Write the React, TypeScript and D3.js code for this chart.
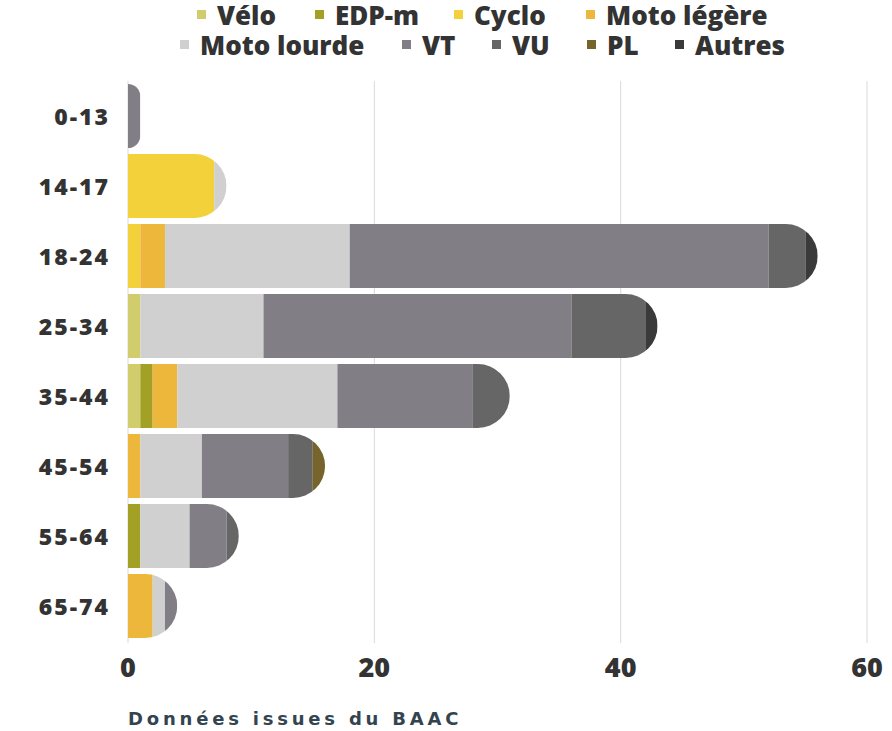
import * as d3 from "d3";

// tranches d'âge et catégories de véhicule
const ages = ["0-13", "14-17", "18-24", "25-34", "35-44", "45-54", "55-64", "65-74"];
const vehicules = ["Vélo", "EDP-m", "Cyclo", "Moto légère", "Moto lourde", "VT", "VU", "PL", "Autres"];
const couleurs = ["#d1cd6c", "#a3a026", "#f2d13a", "#ecb73a", "#d0d0d0", "#817e85", "#666666", "#76642c", "#3a3a3a"];

// valeurs par catégorie (ordre des tranches d'âge)
const velo = [0, 0, 0, 1, 1, 0, 0, 0];
const edpm = [0, 0, 0, 0, 1, 0, 1, 0];
const cyclo = [0, 7, 1, 0, 0, 0, 0, 0];
const motoLegere = [0, 0, 2, 0, 2, 1, 0, 2];
const motoLourde = [0, 1, 15, 10, 13, 5, 4, 1];
const vt = [1, 0, 34, 25, 11, 7, 3, 1];
const vu = [0, 0, 3, 6, 3, 2, 1, 0];
const pl = [0, 0, 0, 0, 0, 1, 0, 0];
const autres = [0, 0, 1, 1, 0, 0, 0, 0];

const xTicks = [0, 20, 40, 60];

const series = [velo, edpm, cyclo, motoLegere, motoLourde, vt, vu, pl, autres];

const rows = ages.map((age, i) => {
  const r: any = { age };
  vehicules.forEach((v, j) => (r[v] = series[j][i]));
  return r;
});

export default function App() {
  const W = 892, H = 731;
  const x = d3.scaleLinear().domain([0, 60]).range([128, 867]);
  const y = d3.scaleBand().domain(ages).range([81, 641]).paddingInner(0.086).paddingOuter(0.043);
  const stack = d3.stack<any>().keys(vehicules)(rows);
  const totals = rows.map((r) => d3.sum(vehicules, (v) => r[v]));

  // barre arrondie à droite seulement
  const clipPath = (i: number) => {
    const y0 = y(ages[i])!, h = y.bandwidth(), y1 = y0 + h;
    const x0 = x(0), x1 = x(totals[i]);
    const r = Math.min(h / 2, x1 - x0);
    return `M${x0},${y0}H${x1 - r}A${r},${r} 0 0 1 ${x1},${y0 + r}V${y1 - r}A${r},${r} 0 0 1 ${x1 - r},${y1}H${x0}Z`;
  };

  const fontBold = { fontFamily: "'Open Sans', sans-serif", fontWeight: 800 } as any;

  const row1 = [
    { k: 0, x: 197 }, { k: 1, x: 315 }, { k: 2, x: 454 }, { k: 3, x: 586 },
  ];
  const row2 = [
    { k: 4, x: 180 }, { k: 5, x: 402 }, { k: 6, x: 492 }, { k: 7, x: 587 }, { k: 8, x: 675 },
  ];

  return (
    <svg width={W} height={H} style={{ display: "block", position: "absolute", left: 0, top: 0 }}>
      <rect width={W} height={H} fill="#fff" />
      <defs>
        {ages.map((a, i) => (
          <clipPath id={`clip-${i}`} key={a}>
            <path d={clipPath(i)} />
          </clipPath>
        ))}
      </defs>

      {/* légende */}
      {[row1, row2].map((row, ri) =>
        row.map((it) => (
          <g key={it.k} transform={`translate(${it.x},${ri === 0 ? 25 : 55})`}>
            <rect x={0} y={-15} width={9} height={9} fill={couleurs[it.k]} />
            <text x={20} y={0} fontSize={26} fill="#333" style={fontBold}>
              {vehicules[it.k]}
            </text>
          </g>
        ))
      )}

      {/* grille */}
      {xTicks.map((t) => (
        <line key={t} x1={x(t)} x2={x(t)} y1={81} y2={643} stroke="#d9d9d9" strokeWidth={1} />
      ))}

      {/* barres */}
      {ages.map((a, i) => (
        <g key={a} clipPath={`url(#clip-${i})`}>
          {stack.map((s, j) => {
            const d = s[i];
            if (d[1] - d[0] <= 0) return null;
            return (
              <rect
                key={j}
                x={x(d[0])}
                y={y(a)}
                width={x(d[1]) - x(d[0])}
                height={y.bandwidth()}
                fill={couleurs[j]}
              />
            );
          })}
        </g>
      ))}

      {/* libellés y */}
      {ages.map((a) => (
        <text key={a} x={110} y={y(a)! + y.bandwidth() / 2 + 9} textAnchor="end" fontSize={23} letterSpacing={2} fill="#333" style={fontBold}>
          {a}
        </text>
      ))}

      {/* axe x */}
      {xTicks.map((t) => (
        <text key={t} x={x(t)} y={677} textAnchor="middle" fontSize={27} fill="#333" style={fontBold}>
          {t}
        </text>
      ))}

      <text x={128} y={725} fontSize={18} fill="#34444f" letterSpacing={3.8} style={{ fontFamily: "'DejaVu Sans', sans-serif", fontWeight: 700 }}>
        Données issues du BAAC
      </text>
    </svg>
  );
}
